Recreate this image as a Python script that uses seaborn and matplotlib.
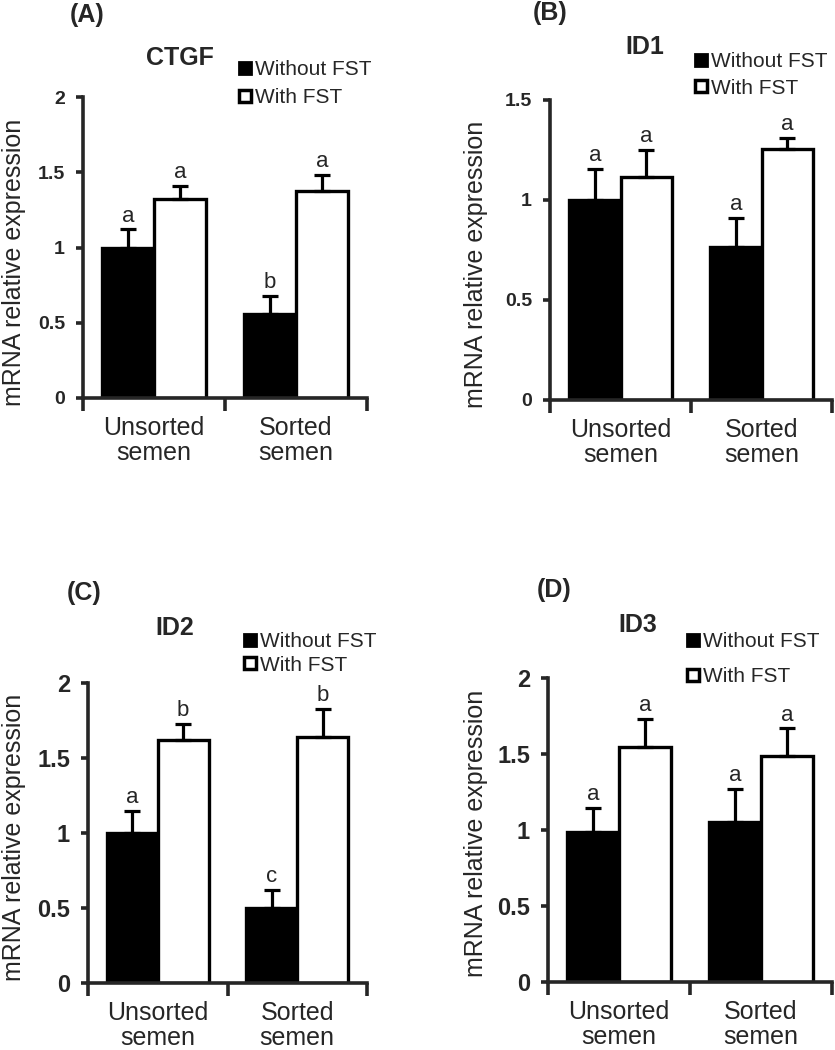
import numpy as np
import pandas as pd
import matplotlib
matplotlib.use("Agg")
import matplotlib.pyplot as plt
from matplotlib.lines import Line2D
import seaborn as sns

# datos
grupos = ["Unsorted\nsemen", "Sorted\nsemen"]
tratamientos = ["Without FST", "With FST"]
genes = ["CTGF", "ID1", "ID2", "ID3"]
paneles = ["(A)", "(B)", "(C)", "(D)"]

# filas: Without FST, With FST ; columnas: Unsorted, Sorted
ctgf_media = [[1.00, 0.56], [1.32, 1.375]]
ctgf_error = [[0.12, 0.12], [0.09, 0.105]]
ctgf_letras = [["a", "b"], ["a", "a"]]

id1_media = [[1.00, 0.765], [1.115, 1.255]]
id1_error = [[0.155, 0.145], [0.135, 0.055]]
id1_letras = [["a", "a"], ["a", "a"]]

id2_media = [[1.00, 0.50], [1.62, 1.64]]
id2_error = [[0.145, 0.12], [0.11, 0.185]]
id2_letras = [["a", "c"], ["b", "b"]]

id3_media = [[0.99, 1.05], [1.547, 1.485]]
id3_error = [[0.153, 0.22], [0.183, 0.183]]
id3_letras = [["a", "a"], ["a", "a"]]

ymax = [2, 1.5, 2, 2]
yticks = [[0, 0.5, 1, 1.5, 2], [0, 0.5, 1, 1.5], [0, 0.5, 1, 1.5, 2], [0, 0.5, 1, 1.5, 2]]

medias = [ctgf_media, id1_media, id2_media, id3_media]
errores = [ctgf_error, id1_error, id2_error, id3_error]
letras = [ctgf_letras, id1_letras, id2_letras, id3_letras]

sns.set_style("ticks")
plt.rcParams['font.family'] = ['Liberation Sans', 'DejaVu Sans']

W, H = 835, 1050
fig = plt.figure(figsize=(W / 100, H / 100), dpi=100)

def px(x, y):
    return x / W, 1 - y / H

# posiciones en pixeles: (izq, der, abajo, arriba)
cajas = [(83, 367, 398, 97), (550, 832, 400, 100), (88, 367, 983, 683), (548, 832, 982, 678)]
pos_panel = [(70, 15), (533, 13), (67, 593), (537, 590)]
pos_gen = [(180, 58), (645, 47), (175, 628), (638, 625)]
pos_leyenda = [(238, 83.5, 0.45), (694, 75, 0.35), (243, 653.5, 0.2), (686, 659, 0.75)]
pos_ylabel = [(14, 262), (476, 264), (14, 837), (476, 833)]
tam_ticks = [14, 14, 17, 17]

for i in range(4):
    l, r, b, t = cajas[i]
    ax = fig.add_axes([l / W, 1 - b / H, (r - l) / W, (b - t) / H])

    filas = []
    for j, trat in enumerate(tratamientos):
        for k, g in enumerate(grupos):
            filas.append({"grupo": g, "tratamiento": trat, "valor": medias[i][j][k]})
    df = pd.DataFrame(filas)

    sns.barplot(data=df, x="grupo", y="valor", hue="tratamiento", order=grupos,
                hue_order=tratamientos, palette=["black", "white"], edgecolor="black",
                linewidth=2.4, width=0.73, gap=0, errorbar=None, legend=False,
                saturation=1, ax=ax)

    contenedores = list(ax.containers)[:2]
    for j, cont in enumerate(contenedores):
        for k, barra in enumerate(cont.patches):
            xc = barra.get_x() + barra.get_width() / 2
            yc = barra.get_height()
            e = errores[i][j][k]
            ax.errorbar(xc, yc, yerr=[[0], [e]], fmt="none", ecolor="black",
                        elinewidth=2.3, capsize=6, capthick=2.3, zorder=1)
            ax.annotate(letras[i][j][k], (xc, yc + e), xytext=(0, 2),
                        textcoords="offset points", ha="center", va="bottom",
                        fontsize=16, annotation_clip=False)

    ax.set_xlim(-0.5, 1.5)
    ax.set_ylim(0, ymax[i])
    ax.set_yticks(yticks[i])
    ax.set_yticklabels([f"{v:g}" for v in yticks[i]], fontsize=tam_ticks[i], fontweight="bold")
    ax.set_xticks([0, 1])
    ax.set_xticklabels(grupos, fontsize=18, linespacing=1.05)
    ax.set_xticks([-0.5, 0.5, 1.5], minor=True)
    ax.tick_params(axis="x", which="major", length=0, pad=13)
    ax.tick_params(axis="x", which="minor", length=9, width=2.6, direction="out")
    ax.tick_params(axis="y", length=5, width=2.6, direction="out", pad=8)
    ax.set_xlabel("")
    ax.set_ylabel("mRNA relative expression", fontsize=18, va="center")
    ax.yaxis.set_label_coords(*px(*pos_ylabel[i]), transform=fig.transFigure)
    for s in ["top", "right"]:
        ax.spines[s].set_visible(False)
    for s in ["left", "bottom"]:
        ax.spines[s].set_linewidth(2.6)

    manejadores = [
        Line2D([], [], marker="s", linestyle="none", markersize=9,
               markerfacecolor="black", markeredgecolor="black", markeredgewidth=2),
        Line2D([], [], marker="s", linestyle="none", markersize=9,
               markerfacecolor="white", markeredgecolor="black", markeredgewidth=2.5),
    ]
    lx, ly, esp = pos_leyenda[i]
    fig.legend(manejadores, tratamientos, loc="center left", bbox_to_anchor=px(lx, ly),
               bbox_transform=fig.transFigure, frameon=False, fontsize=15,
               handlelength=0.7, handletextpad=0.1, labelspacing=esp,
               borderpad=0, borderaxespad=0)

    fig.text(*px(*pos_panel[i]), paneles[i], fontsize=18, fontweight="bold",
             ha="left", va="center")
    fig.text(*px(*pos_gen[i]), genes[i], fontsize=18, fontweight="bold",
             ha="center", va="center")

fig.savefig("out.png", dpi=100)
